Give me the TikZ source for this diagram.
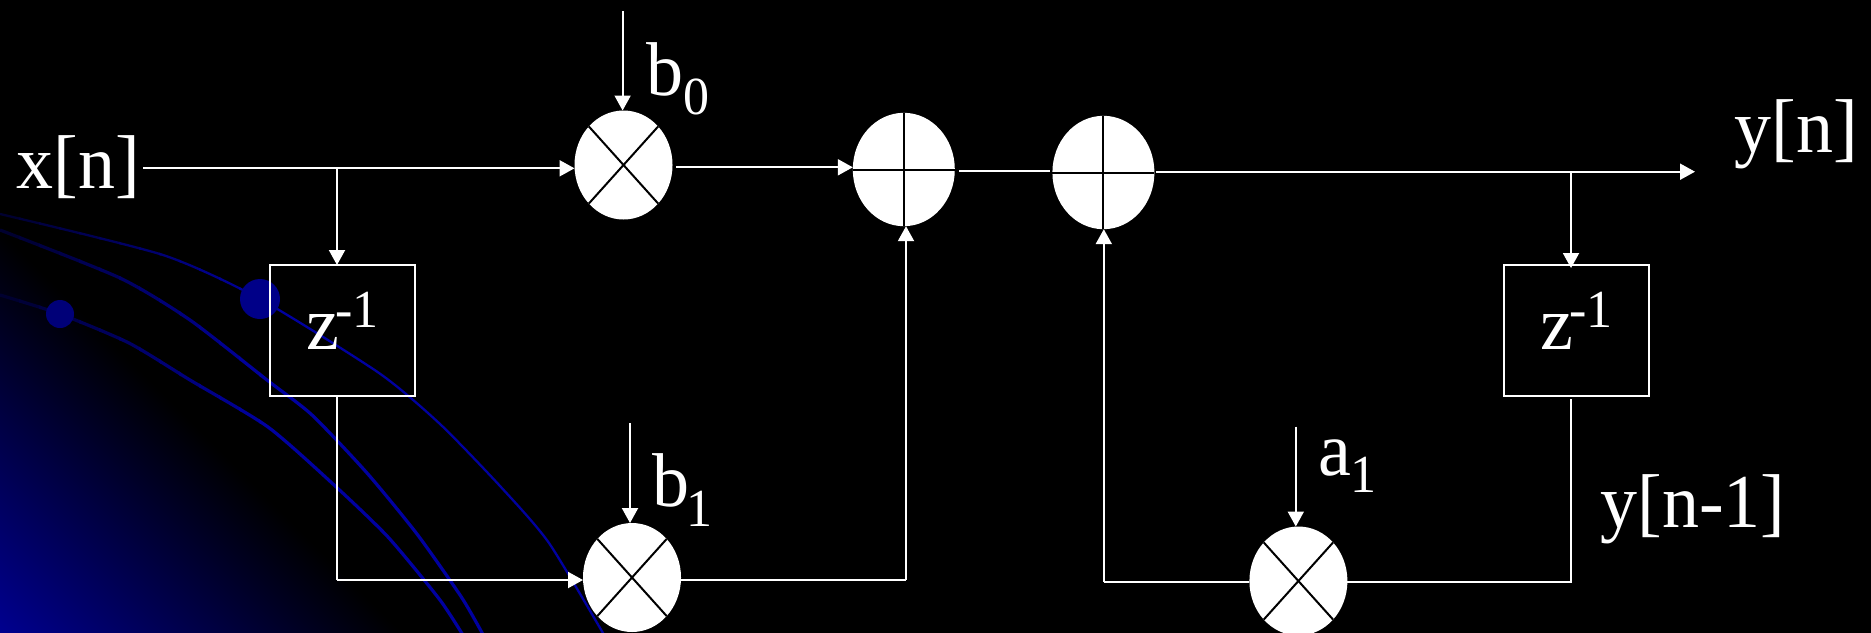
\documentclass[tikz,border=0pt]{standalone}
\usepackage{fontspec}
\setmainfont{Liberation Serif}
\usetikzlibrary{shapes.geometric,arrows.meta}
\definecolor{arcblue}{RGB}{0,0,160}
\pgfdeclareverticalshading{cornerglow}{100bp}{rgb(0bp)=(0,0,.56);rgb(50bp)=(0,0,.56);rgb(60.2bp)=(0,0,0);rgb(100bp)=(0,0,0)}
\newcommand{\arcpaths}{%
  \draw[line width=1.15pt] plot[smooth,tension=0.4] coordinates {(0,214)(163,255)(260,299)(379,373)(440,424)(500,486)(549,543)(607,640)};
  \draw[line width=1.6pt] plot[smooth,tension=0.4] coordinates {(0,230)(120,278)(190,320)(267,380)(312,415)(367,473)(417,534)(462,598)(486,640)};
  \draw[line width=1.6pt] plot[smooth,tension=0.4] coordinates {(0,295)(60,314)(129,343)(190,380)(268,427)(333,484)(388,537)(440,600)(466,640)};
}
\tikzset{
  x=0.5pt,y=-0.5pt,
  wire/.style={draw=white,line width=1pt},
  arrowwire/.style={wire,-{Triangle[width=8pt,length=7.5pt]}},
  opnode/.style={ellipse,fill=white,draw=none,inner sep=0pt,outer sep=0pt,minimum width=49pt,minimum height=54.5pt},
  sumnode/.style={opnode,minimum width=51pt,minimum height=56.7pt},
  opline/.style={draw=black,line width=1pt},
  delaybox/.style={rectangle,draw=white,line width=1pt,inner sep=0pt,outer sep=0pt,minimum width=72.5pt,minimum height=65.6pt},
  lbl/.style={anchor=base west,inner sep=0pt,text=white,font=\fontsize{37}{37}\selectfont,yscale=1.03,transform shape},
  sub/.style={anchor=base west,inner sep=0pt,text=white,font=\fontsize{26}{26}\selectfont,yscale=1.03,transform shape}
}
\begin{document}
\begin{tikzpicture}
\useasboundingbox (0,0) rectangle (1871,632);
\fill[black] (-10,-10) rectangle (1881,642);
\begin{scope}
\clip (-10,-10) rectangle (1881,642);
% diagonal glow from the lower left corner
\shade[shading=cornerglow,shading angle=-45] (-700,-68) rectangle (700,1332);
% arcs, darker towards the left edge
\foreach \i in {0,...,12}{
  \pgfmathtruncatemacro{\amt}{30+\i*5.5}
  \begin{scope}
    \clip ({20*\i-1},-10) rectangle ({20*\i+21},642);
    \begin{scope}[draw=arcblue!\amt!black]
      \arcpaths
    \end{scope}
  \end{scope}
}
\begin{scope}
  \clip (259,-10) rectangle (700,642);
  \begin{scope}[draw=arcblue]
    \arcpaths
  \end{scope}
\end{scope}
\fill[arcblue!85!black] (260,299) circle [radius=20];
\fill[arcblue!75!black] (60,314) circle [radius=14];
% operators
\node[opnode] (m0) at (623.5,165) {};
\node[opnode] (m1) at (632,577.5) {};
\node[opnode] (m2) at (1298.4,581) {};
\node[sumnode] (a1) at (903.8,169.5) {};
\node[sumnode] (a2) at (1103.4,172.5) {};
\foreach \m in {m0,m1,m2}{
  \draw[opline] (\m.north west) -- (\m.south east);
  \draw[opline] (\m.north east) -- (\m.south west);
}
\foreach \m in {a1,a2}{
  \draw[opline] (\m.north) -- (\m.south);
  \draw[opline] (\m.west) -- (\m.east);
}
\end{scope}
% delay boxes
\node[delaybox] (d1) at (342.3,330.6) {};
\node[delaybox] (d2) at (1576.7,330.6) {};
% free ends and bends
\coordinate (xin) at (143,168.3);
\coordinate (xtap) at (337,168.3);
\coordinate (b0in) at (622.6,11);
\coordinate (b1in) at (630,423);
\coordinate (a1in) at (1295.8,426.7);
\coordinate (m0out) at (676,167.3);
\coordinate (a1out) at (959,170.7);
\coordinate (a2in) at (1050,170.7);
\coordinate (a2out) at (1156,171.7);
\coordinate (yout) at (1695,171.7);
\coordinate (ytap) at (1571,171.7);
\coordinate (ytapend) at (1571,268);
\coordinate (d1bend) at (337,580);
\coordinate (m1bend) at (906,580);
\coordinate (m2bend) at (1103.8,582);
\coordinate (d2bend) at (1571,582);
\coordinate (d2out) at (1571,399.3);
% connectors
\draw[arrowwire] (xin) -- (xin -| m0.west);
\draw[arrowwire] (xtap) -- (xtap |- d1.north);
\draw[wire] (xtap |- d1.south) -- (d1bend);
\draw[arrowwire] (d1bend) -- (d1bend -| m1.west);
\draw[arrowwire] (b0in) -- (b0in |- m0.north);
\draw[arrowwire] (b1in) -- (b1in |- m1.north);
\draw[arrowwire] (a1in) -- (a1in |- m2.north);
\draw[arrowwire] (m0out) -- (m0out -| a1.west);
\draw[wire] (m1bend -| m1.east) -- (m1bend);
\draw[arrowwire] (m1bend) -- (m1bend |- a1.south);
\draw[wire] (a1out) -- (a2in);
\draw[arrowwire] (a2out) -- (yout);
\draw[arrowwire] (ytap) -- (ytapend);
\draw[wire] (d2out) -- (d2bend) -- (d2bend -| m2.east);
\draw[wire] (m2bend -| m2.west) -- (m2bend);
\draw[arrowwire] (m2bend) -- (m2bend |- a2.south);
% labels
\node[lbl] (tx) at (16,188.5) {x[n]};
\node[lbl] (ty) at (1734,152) {y[n]};
\node[lbl] (tb0) at (646,95) {b};
\node[sub] (tb0s) at (683,114) {0};
\node[lbl] (tb1) at (652,506) {b};
\node[sub] (tb1s) at (686,526) {1};
\node[lbl] (ta1) at (1318,475) {a};
\node[sub] (ta1s) at (1350,492) {1};
\node[lbl] (tyn) at (1600,527) {y[n-1]};
\node[lbl] (tz1) at (306,349) {z};
\node[sub] (tz1e) at (335,327) {-1};
\node[lbl] (tz2) at (1540.5,349) {z};
\node[sub] (tz2e) at (1569,327) {-1};
\end{tikzpicture}
\end{document}
